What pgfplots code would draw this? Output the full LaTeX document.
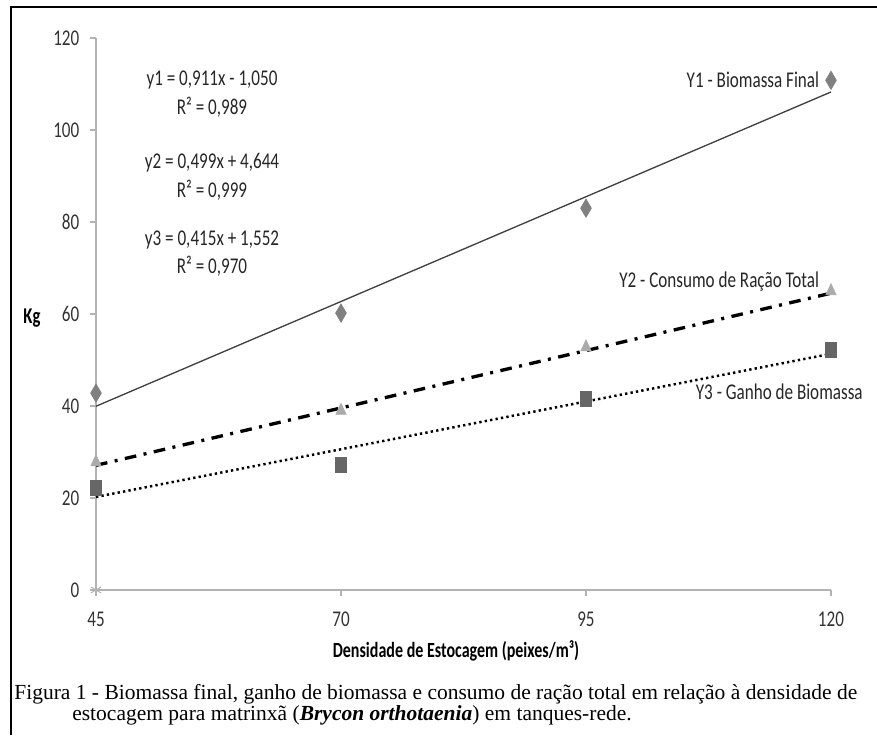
\documentclass[border=0pt]{standalone}
\usepackage{fontspec}
\setmainfont{Liberation Serif}
\newfontfamily\calfont[FakeStretch=0.76]{Carlito}
\newfontfamily\calbfont[FakeStretch=0.74]{Carlito}
\usepackage{pgfplots}
\pgfplotsset{compat=1.18}
\begin{document}
\begin{tikzpicture}
\begin{scope}[x=0.6pt,y=-0.6pt,shift={(-96,-590)}]
\useasboundingbox (0,0) rectangle (877,735);
\draw[line width=1.2pt] (11,735) -- (11,7) -- (877,7);
\begin{scope}[font=\calfont\fontsize{13.5}{15}\selectfont, text=black!85]
\node at (212,80) {y1 = 0,911x - 1,050};
\node at (212,107) {R² = 0,989};
\node at (212,163) {y2 = 0,499x + 4,644};
\node at (212,190) {R² = 0,999};
\node at (212,240) {y3 = 0,415x + 1,552};
\node at (212,266) {R² = 0,970};
\node[anchor=east] at (825,80) {Y1 - Biomassa Final};
\node[anchor=east] at (825,282) {Y2 - Consumo de Ração Total};
\node[anchor=west] at (690,392) {Y3 - Ganho de Biomassa};
\node[font=\calbfont\bfseries\fontsize{13.5}{15}\selectfont, text=black] at (32,318) {Kg};
\node[font=\calbfont\bfseries\fontsize{13}{15}\selectfont, text=black] at (456,651) {Densidade de Estocagem (peixes/m³)};
\end{scope}
\node[anchor=west, inner sep=0pt, font=\fontsize{12.9}{15}\selectfont] at (14,694) {Figura 1 - Biomassa final, ganho de biomassa e consumo de ração total em relação à densidade de};
\node[anchor=west, inner sep=0pt, font=\fontsize{12.9}{15}\selectfont] at (72,715) {estocagem para matrinxã (\textbf{\textit{Brycon orthotaenia}}) em tanques-rede.};
\end{scope}
\begin{axis}[
  at={(0,0)}, anchor=south west,
  scale only axis, width=441pt, height=331.2pt,
  xmin=45, xmax=120, ymin=0, ymax=120,
  axis lines=left,
  axis line style={-, draw=black!30, line width=0.7pt},
  xtick={45,70,95,120}, ytick={0,20,40,60,80,100,120},
  tick style={draw=black!30, line width=0.7pt},
  tick align=outside, major tick length=3.5pt,
  ticklabel style={font=\calfont\fontsize{13.5}{15}\selectfont, text=black!80},
  /pgf/number format/assume math mode=true,
  yticklabel style={xshift=-3pt},
  xticklabel style={yshift=-6pt},
  clip=false,
]
\addplot[no marks, color=black!75, line width=0.8pt] coordinates {(45,39.945) (120,108.27)};
\addplot[no marks, black, line width=2pt, dash pattern=on 7pt off 4.5pt on 1.8pt off 4.5pt] coordinates {(45,27.099) (120,64.524)};
\addplot[no marks, black, line width=1.5pt, dash pattern=on 1.4pt off 1.9pt] coordinates {(45,20.227) (120,51.352)};
\addplot[only marks, mark=diamond*, mark size=5.5pt, color=black!50, mark options={xscale=0.78}] coordinates {(45,42.8) (70,60.2) (95,83) (120,110.8)};
\addplot[only marks, mark=triangle*, mark size=4.4pt, color=black!33, mark options={xscale=0.8}] coordinates {(45,27.8) (70,39) (95,52.8) (120,65)};
\addplot[only marks, mark=square*, mark size=4.5pt, color=black!60, mark options={xscale=0.75}] coordinates {(45,22.3) (70,27.3) (95,41.5) (120,52.3)};
\addplot[only marks, mark=asterisk, mark size=3.5pt, color=black!30, line width=0.6pt] coordinates {(45,0)};
\end{axis}
\end{tikzpicture}
\end{document}
